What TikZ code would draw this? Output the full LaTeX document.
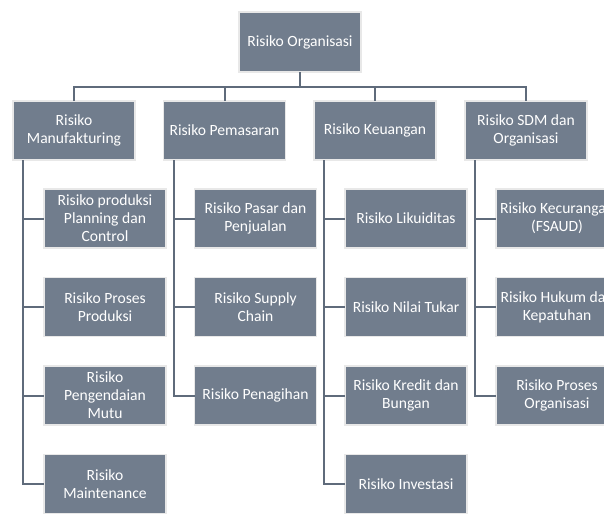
\documentclass[tikz,border=0pt]{standalone}
\usepackage{fontspec}
\setmainfont{Carlito}
\usetikzlibrary{calc}
\definecolor{boxc}{HTML}{717D8D}
\definecolor{bordc}{HTML}{E8E8E8}
\definecolor{linec}{HTML}{5F6B7B}
\tikzset{
  rbox/.style={rectangle, fill=boxc, draw=bordc, line width=1.6pt,
    minimum width=122pt, minimum height=59pt, inner sep=0pt, outer sep=0pt,
    text=white, align=center,
    font=\fontsize{15.6pt}{18pt}\selectfont},
  conn/.style={draw=linec, line width=2pt}
}
\begin{document}
\begin{tikzpicture}[x=1pt,y=-1pt]
\useasboundingbox (0,0) rectangle (604,514);
\clip (0,0) rectangle (604,514);
% top
\node[rbox, minimum height=60pt] (top) at (300,42) {Risiko Organisasi};
% level 2
\node[rbox] (m1) at (74,130.5) {Risiko\\Manufakturing};
\node[rbox] (m2) at (224.5,130.5) {Risiko Pemasaran};
\node[rbox] (m3) at (375,130.5) {Risiko Keuangan};
\node[rbox] (m4) at (526,130.5) {Risiko SDM dan\\Organisasi};
% column 1
\node[rbox] (a1) at (105,218.5) {Risiko produksi\\Planning dan\\Control};
\node[rbox] (a2) at (105,307) {Risiko Proses\\Produksi};
\node[rbox] (a3) at (105,395.5) {Risiko\\Pengendaian\\Mutu};
\node[rbox] (a4) at (105,484) {Risiko\\Maintenance};
% column 2
\node[rbox] (b1) at (255.5,218.5) {Risiko Pasar dan\\Penjualan};
\node[rbox] (b2) at (255.5,307) {Risiko Supply\\Chain};
\node[rbox] (b3) at (255.5,395.5) {Risiko Penagihan};
% column 3
\node[rbox] (c1) at (406,218.5) {Risiko Likuiditas};
\node[rbox] (c2) at (406,307) {Risiko Nilai Tukar};
\node[rbox] (c3) at (406,395.5) {Risiko Kredit dan\\Bungan};
\node[rbox] (c4) at (406,484) {Risiko Investasi};
% column 4
\node[rbox] (d1) at (557,218.5) {Risiko Kecurangan\\(FSAUD)};
\node[rbox] (d2) at (557,307) {Risiko Hukum dan\\Kepatuhan};
\node[rbox] (d3) at (557,395.5) {Risiko Proses\\Organisasi};
% bus
\coordinate (bus) at (300,86.5);
\draw[conn] (top.south) -- (bus);
\draw[conn] (m1.north) |- (bus) -| (m4.north);
\draw[conn] (m2.north) -- (m2.north |- bus);
\draw[conn] (m3.north) -- (m3.north |- bus);
% trunks
\coordinate (t1) at ($(m1.south west)+(10,0)$);
\coordinate (t2) at ($(m2.south west)+(10,0)$);
\coordinate (t3) at ($(m3.south west)+(10,0)$);
\coordinate (t4) at ($(m4.south west)+(10,0)$);
\draw[conn] (t1) |- (a4.west);
\draw[conn] (t1 |- a1.west) -- (a1.west);
\draw[conn] (t1 |- a2.west) -- (a2.west);
\draw[conn] (t1 |- a3.west) -- (a3.west);
\draw[conn] (t2) |- (b3.west);
\draw[conn] (t2 |- b1.west) -- (b1.west);
\draw[conn] (t2 |- b2.west) -- (b2.west);
\draw[conn] (t3) |- (c4.west);
\draw[conn] (t3 |- c1.west) -- (c1.west);
\draw[conn] (t3 |- c2.west) -- (c2.west);
\draw[conn] (t3 |- c3.west) -- (c3.west);
\draw[conn] (t4) |- (d3.west);
\draw[conn] (t4 |- d1.west) -- (d1.west);
\draw[conn] (t4 |- d2.west) -- (d2.west);
\end{tikzpicture}
\end{document}
